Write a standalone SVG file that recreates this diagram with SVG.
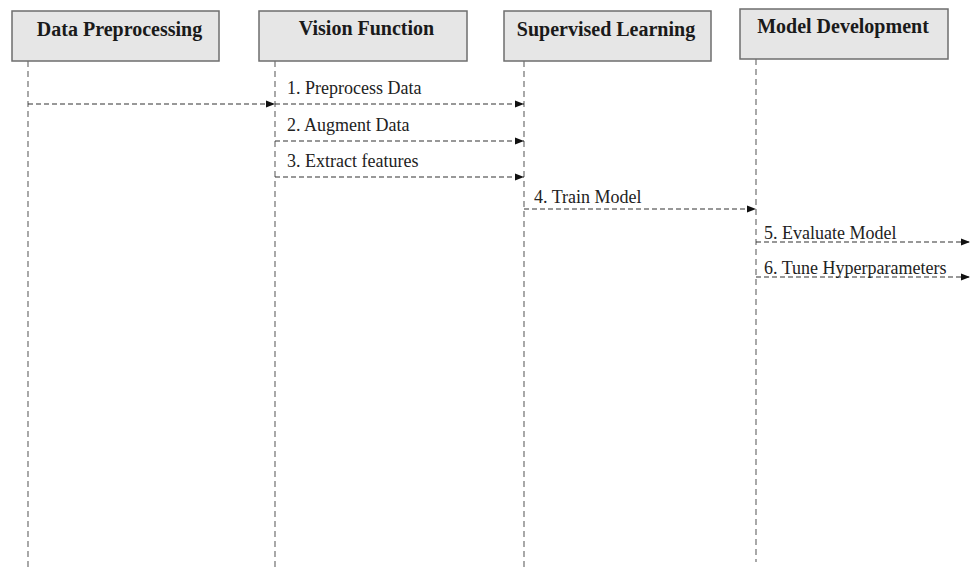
<svg xmlns="http://www.w3.org/2000/svg" width="970" height="569" viewBox="0 0 970 569">
<style>
.box{fill:#e6e6e6;stroke:#6e6e6e;stroke-width:1.5}
.hd{font-family:"Liberation Serif",serif;font-weight:bold;font-size:20px;fill:#1a1a1a;text-anchor:middle}
.life{stroke:#707070;stroke-width:1.2;stroke-dasharray:6,4;fill:none}
.msg{stroke:#333;stroke-width:1.2;stroke-dasharray:5,3;fill:none;marker-end:url(#ah)}
.lb{font-family:"Liberation Serif",serif;font-size:18px;fill:#222}
</style>
<defs>
<marker id="ah" viewBox="0 0 10 10" refX="10" refY="5" markerWidth="9" markerHeight="9" markerUnits="userSpaceOnUse" orient="auto">
<path d="M0,1 L10,5 L0,9 Z" fill="#111"/>
</marker>
</defs>
<g id="node-data-preprocessing">
<rect class="box" x="12" y="11" width="207" height="50"/>
<text class="hd" x="119.5" y="36">Data Preprocessing</text>
<line class="life" x1="28" y1="61" x2="28" y2="569"/>
</g>
<g id="node-vision-function">
<rect class="box" x="259" y="11" width="208" height="50"/>
<text class="hd" x="366.5" y="35">Vision Function</text>
<line class="life" x1="275" y1="61" x2="275" y2="569"/>
</g>
<g id="node-supervised-learning">
<rect class="box" x="504" y="11" width="207" height="50"/>
<text class="hd" x="606" y="36">Supervised Learning</text>
<line class="life" x1="524" y1="61" x2="524" y2="569"/>
</g>
<g id="node-model-development">
<rect class="box" x="740" y="9" width="208" height="50"/>
<text class="hd" x="843" y="33">Model Development</text>
<line class="life" x1="756" y1="59" x2="756" y2="562"/>
</g>
<g id="connectors">
<line class="msg" x1="28" y1="104" x2="275" y2="104"/>
<line class="msg" x1="275" y1="104" x2="524" y2="104"/>
<text class="lb" x="287" y="94">1. Preprocess Data</text>
<line class="msg" x1="275" y1="141" x2="524" y2="141"/>
<text class="lb" x="287" y="131">2. Augment Data</text>
<line class="msg" x1="275" y1="177" x2="524" y2="177"/>
<text class="lb" x="287" y="167">3. Extract features</text>
<line class="msg" x1="524" y1="209" x2="756" y2="209"/>
<text class="lb" x="534" y="203">4. Train Model</text>
<line class="msg" x1="756" y1="242" x2="970" y2="242"/>
<text class="lb" x="764" y="239">5. Evaluate Model</text>
<line class="msg" x1="756" y1="277" x2="970" y2="277"/>
<text class="lb" x="764" y="274">6. Tune Hyperparameters</text>
</g>
</svg>
